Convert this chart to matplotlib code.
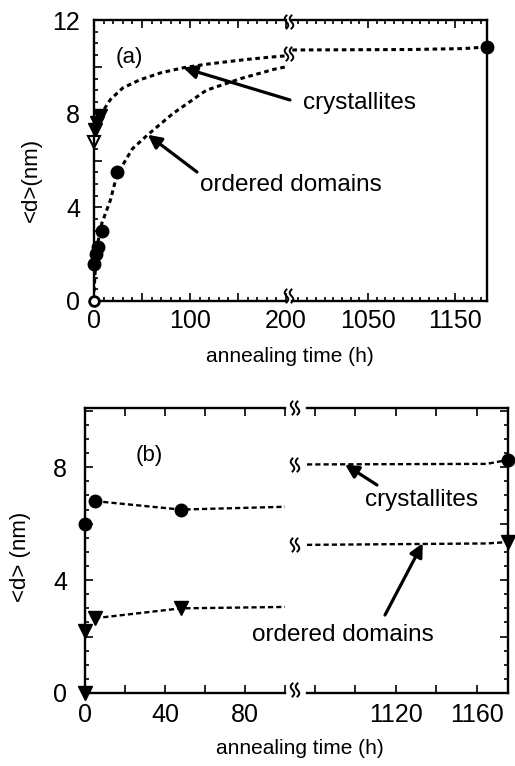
import matplotlib
matplotlib.use('Agg')

import matplotlib.pyplot as plt
from matplotlib.lines import Line2D
from matplotlib.ticker import MultipleLocator, FixedLocator, FuncFormatter
import numpy as np

plt.rcParams['font.family'] = ['Liberation Sans', 'DejaVu Sans']

W, H = 515, 766

# ---- panel (a) ----
a_cryst_t = [1, 3, 6]
a_cryst_d = [7.3, 7.6, 7.9]
a_cryst_open_t = [0]
a_cryst_open_d = [6.8]
a_ord_t = [0, 2, 4, 8, 24]
a_ord_d = [1.6, 2.0, 2.3, 3.0, 5.5]
a_ord_open_t = [0]
a_ord_open_d = [0.0]
a_late_t = [1187]
a_late_d = [10.85]

# fitted growth curves
a_cryst_fit_t = [6, 17, 30, 48, 70, 93, 115, 135, 160, 185, 200]
a_cryst_fit_d = [7.9, 8.6, 9.1, 9.45, 9.75, 9.96, 10.1, 10.2, 10.32, 10.42, 10.47]
a_ord_fit_t = [0, 2, 4, 8, 17, 24, 40, 56, 82, 117, 153, 188, 200]
a_ord_fit_d = [0.4, 1.8, 2.5, 3.3, 4.3, 5.4, 6.5, 7.1, 8.0, 9.0, 9.5, 9.9, 10.0]
a_late_fit_t = [963, 1100, 1160, 1187]
a_late_fit_d = [10.72, 10.74, 10.78, 10.85]

# ---- panel (b) ----
b_cryst_t = [0, 5, 48]
b_cryst_d = [6.0, 6.8, 6.5]
b_ord_t = [0, 0, 5, 48]
b_ord_d = [0.0, 2.2, 2.65, 3.0]
b_cryst_late_t = [1175.5]
b_cryst_late_d = [8.26]
b_ord_late_t = [1175.5]
b_ord_late_d = [5.35]

b_cryst_fit_t = [5, 48, 100]
b_cryst_fit_d = [6.8, 6.5, 6.6]
b_ord_fit_t = [5, 48, 100]
b_ord_fit_d = [2.65, 3.0, 3.05]
b_cryst_late_fit_t = [1076, 1165, 1175.5]
b_cryst_late_fit_d = [8.1, 8.12, 8.26]
b_ord_late_fit_t = [1076, 1165, 1175.5]
b_ord_late_fit_d = [5.25, 5.3, 5.35]

TICK_FS = 18
LABEL_FS = 15
YLABEL_FS = 16
TEXT_FS = 17.5


def px_axes(fig, x0, x1, y_top, y_bot):
    return fig.add_axes([x0 / W, 1 - y_bot / H, (x1 - x0) / W, (y_bot - y_top) / H])


def style_axes(ax):
    for s in ax.spines.values():
        s.set_linewidth(1.7)
    ax.tick_params(which='both', direction='in', width=1.2, labelsize=TICK_FS)
    ax.tick_params(which='major', length=6)
    ax.tick_params(which='minor', length=3)


def squiggle(fig, px, py, h=13, amp=1.8, gap=5):
    s = np.linspace(-1, 1, 30)
    for dx in (-gap / 2, gap / 2):
        xs = (px + dx + amp * np.sin(np.pi * s)) / W
        ys = 1 - (py + h / 2 * s) / H
        fig.add_artist(Line2D(xs, ys, transform=fig.transFigure, color='black', lw=1.4))


def only(vals):
    return FuncFormatter(lambda v, p: f'{v:.0f}' if round(v) in vals else '')


fig = plt.figure(figsize=(W / 100, H / 100), dpi=100)

arrow = dict(arrowstyle='-|>', lw=2.3, color='black', mutation_scale=20,
             shrinkA=0, shrinkB=0)
dotted = dict(color='black', lw=2.2, linestyle=(0, (1.5, 1.2)))
dashed = dict(color='black', lw=1.7, linestyle=(0, (2.2, 1.3)))

# ================= (a) =================
axL = px_axes(fig, 94, 286, 20, 301)
axR = px_axes(fig, 292, 487, 20, 301)
for ax in (axL, axR):
    style_axes(ax)
    ax.set_ylim(0, 12)

axL.set_xlim(0, 200)
axR.set_xlim(962.6, 1186.8)

axL.spines['right'].set_visible(False)
axR.spines['left'].set_visible(False)

axL.xaxis.set_major_locator(MultipleLocator(50))
axL.xaxis.set_minor_locator(MultipleLocator(10))
axL.xaxis.set_major_formatter(only({0, 100, 200}))
axL.yaxis.set_major_locator(MultipleLocator(2))
axL.yaxis.set_minor_locator(MultipleLocator(0.5))
axL.yaxis.set_major_formatter(only({0, 4, 8, 12}))
axL.tick_params(which='both', top=True, right=False)
axL.tick_params(axis='x', pad=6)
axL.tick_params(axis='y', pad=10)

axR.xaxis.set_major_locator(FixedLocator([1050, 1150]))
axR.xaxis.set_minor_locator(MultipleLocator(10))
axR.tick_params(which='both', top=True, left=False, right=False, labelleft=False)
axR.tick_params(axis='x', pad=6)

axL.plot(a_cryst_fit_t, a_cryst_fit_d, **dotted)
axL.plot(a_ord_fit_t, a_ord_fit_d, **dotted)
axR.plot(a_late_fit_t, a_late_fit_d, **dotted)

axL.plot(a_cryst_t, a_cryst_d, 'v', color='black', ms=10, clip_on=False)
axL.plot(a_cryst_open_t, a_cryst_open_d, 'v', mfc='white', mec='black', mew=1.5,
         ms=9, clip_on=False)
axL.plot(a_ord_t, a_ord_d, 'o', color='black', ms=9, clip_on=False)
axL.plot(a_ord_open_t, a_ord_open_d, 'o', mfc='white', mec='black', mew=2,
         ms=7, clip_on=False, zorder=5)
axR.plot(a_late_t, a_late_d, 'o', color='black', ms=9, clip_on=False, zorder=5)

axL.annotate('', xy=(93, 9.96), xytext=(290 / W, 1 - 100 / H),
             textcoords='figure fraction', arrowprops=arrow, annotation_clip=False)
axL.annotate('', xy=(56, 7.1), xytext=(197 / W, 1 - 172 / H),
             textcoords='figure fraction', arrowprops=arrow, annotation_clip=False)
fig.text(303 / W, 1 - 103 / H, 'crystallites', fontsize=TEXT_FS, va='center')
fig.text(200 / W, 1 - 185 / H, 'ordered domains', fontsize=TEXT_FS, va='center')
fig.text(116 / W, 1 - 58 / H, '(a)', fontsize=16, va='center')

fig.text(31 / W, 1 - 180 / H, '<d>(nm)', fontsize=YLABEL_FS, rotation=90,
         ha='center', va='center')
fig.text(290 / W, 1 - 356 / H, 'annealing time (h)', fontsize=LABEL_FS,
         ha='center', va='center')

for py in (22, 54, 296):
    squiggle(fig, 289, py)

# ================= (b) =================
bxL = px_axes(fig, 85, 285, 408, 693)
bxR = px_axes(fig, 307, 508, 408, 693)
for ax in (bxL, bxR):
    style_axes(ax)
    ax.set_ylim(0, 10.1)
    ax.yaxis.set_major_locator(MultipleLocator(2))
    ax.yaxis.set_minor_locator(MultipleLocator(0.5))
    ax.xaxis.set_major_locator(MultipleLocator(20))
    ax.tick_params(axis='x', pad=7)

bxL.set_xlim(0, 100)
bxR.set_xlim(1076, 1175.5)
bxL.spines['right'].set_visible(False)
bxR.spines['left'].set_visible(False)

bxL.xaxis.set_major_formatter(only({0, 40, 80}))
bxL.yaxis.set_major_formatter(only({0, 4, 8}))
bxL.tick_params(which='both', top=True, right=False)
bxL.tick_params(axis='y', pad=13)

bxR.xaxis.set_major_formatter(only({1120, 1160}))
bxR.tick_params(which='both', top=True, left=False, right=True,
                labelleft=False, labelright=False)

bxL.plot(b_cryst_fit_t, b_cryst_fit_d, **dashed)
bxL.plot(b_ord_fit_t, b_ord_fit_d, **dashed)
bxR.plot(b_cryst_late_fit_t, b_cryst_late_fit_d, **dashed)
bxR.plot(b_ord_late_fit_t, b_ord_late_fit_d, **dashed)

bxL.plot(b_cryst_t, b_cryst_d, 'o', color='black', ms=9, clip_on=False, zorder=5)
bxL.plot(b_ord_t, b_ord_d, 'v', color='black', ms=10, clip_on=False, zorder=5)
bxR.plot(b_cryst_late_t, b_cryst_late_d, 'o', color='black', ms=9,
         clip_on=False, zorder=5)
bxR.plot(b_ord_late_t, b_ord_late_d, 'v', color='black', ms=10,
         clip_on=False, zorder=5)

bxR.annotate('', xy=(1094.8, 8.1), xytext=(377 / W, 1 - 485 / H),
             textcoords='figure fraction', arrowprops=arrow, annotation_clip=False)
bxR.annotate('', xy=(1133.3, 5.31), xytext=(385 / W, 1 - 615 / H),
             textcoords='figure fraction', arrowprops=arrow, annotation_clip=False)
fig.text(365 / W, 1 - 500 / H, 'crystallites', fontsize=TEXT_FS, va='center')
fig.text(252 / W, 1 - 635 / H, 'ordered domains', fontsize=TEXT_FS, va='center')
fig.text(136 / W, 1 - 455 / H, '(b)', fontsize=16, va='center')

fig.text(21 / W, 1 - 557 / H, '<d> (nm)', fontsize=YLABEL_FS, rotation=90,
         ha='center', va='center')
fig.text(300 / W, 1 - 748 / H, 'annealing time (h)', fontsize=LABEL_FS,
         ha='center', va='center')

for py in (408, 465, 545, 690):
    squiggle(fig, 295, py)

fig.savefig('out.png', dpi=100)
